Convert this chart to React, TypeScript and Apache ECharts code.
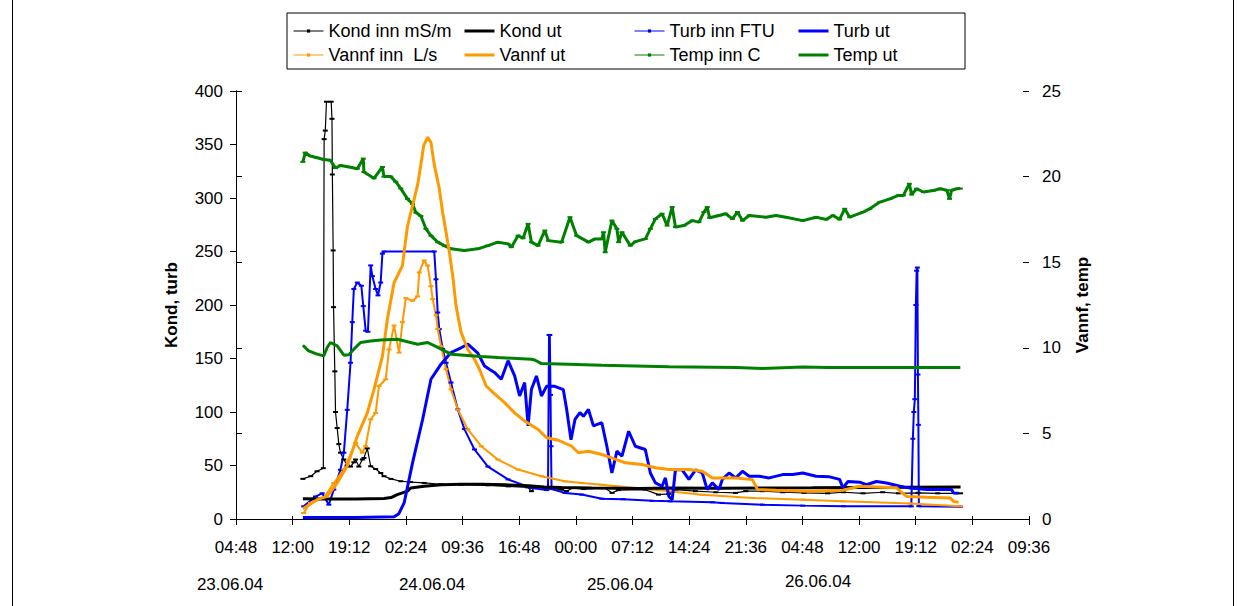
import React, { useEffect, useRef } from "react";
import * as echarts from "echarts";

// time values: hours since 23.06.04 00:00
const X0 = 4.8; // axis starts 23.06 04:48
const xTickHours = 7.2;
const xSpanHours = 100.8;

const dateLabels = ["23.06.04", "24.06.04", "25.06.04", "26.06.04"];

const kondInn: [number, number][] = [
  [13.3, 37.5], [14.3, 40], [15.1, 44.6], [15.9, 47.5], [16.0, 355], [16.15, 363], [16.3, 390], [16.9, 390],
  [17.0, 374], [17.05, 322], [17.15, 251], [17.2, 198], [17.36, 138], [17.45, 100], [17.66, 85], [17.87, 70],
  [18.08, 62], [18.51, 55.6], [18.94, 50], [19.36, 49], [19.78, 53], [20.0, 55.6], [20.42, 49], [20.86, 55.6],
  [21.06, 57], [21.49, 66], [21.92, 49.3], [22.55, 46.7], [23.2, 43], [23.61, 40], [24.5, 37.5], [25.75, 35.3],
  [27.0, 34.5], [28.72, 33.7], [30.86, 32.5], [33.4, 32], [36.8, 31.5], [39.4, 30.5], [41.9, 29.5], [42.35, 26],
  [42.8, 30], [44.0, 29], [46.2, 27.5], [46.8, 26], [47.6, 29], [49.0, 28], [51.7, 29], [52.6, 24.4], [53.4, 27],
  [56.8, 27.5], [58.5, 22.8], [59.8, 23.5], [60.7, 27.5], [63.2, 26], [65.8, 25], [68.3, 24.4], [69.6, 26],
  [71.7, 26], [74.3, 25], [77, 24.5], [80, 24], [82, 25], [84.5, 24], [87, 25], [89, 24], [91.5, 24.5], [94, 24],
  [96.9, 24],
];

const kondUt: [number, number][] = [
  [13.3, 19], [16, 18.8], [20, 18.7], [23.6, 19.2], [24.5, 20], [25.3, 22.8], [26.6, 26], [27.0, 29], [28.7, 30.6],
  [30.9, 32], [33.4, 32.5], [36, 32.5], [39, 32], [42, 31], [44, 30], [46.2, 29.5], [50, 29], [56, 28.5], [60, 29],
  [66, 28.8], [72, 29], [78, 29.2], [84, 29.5], [90, 29.7], [96.9, 30],
];

const turbInn: [number, number][] = [
  [13.4, 11.8], [14.9, 21], [15.75, 24], [16.6, 13.4], [17.23, 27.5], [18.08, 46], [18.51, 62], [18.94, 102],
  [19.36, 146], [19.58, 184], [19.78, 215], [20.22, 221], [20.73, 218], [20.98, 199], [21.28, 176], [21.57, 175],
  [21.92, 237], [22.13, 227], [22.55, 215], [22.85, 209], [23.19, 221], [23.41, 248], [23.61, 250], [30.0, 250],
  [30.22, 224], [30.44, 193], [30.64, 177.5], [31.07, 159], [31.5, 146], [32.13, 127.5], [32.99, 102.5],
  [33.83, 84], [35.11, 65], [36.82, 49], [39.38, 37], [42.35, 29], [44.3, 27], [44.46, 30], [44.59, 172],
  [44.69, 172], [44.78, 116], [44.84, 68], [44.91, 28], [46.6, 24.4], [48.74, 22.8], [51.3, 19], [54, 18.5],
  [57.7, 17], [60, 16.5], [65.34, 15.6], [66.6, 15], [71.73, 13.4], [76.84, 12.5], [82, 12], [90.64, 11.8],
  [90.84, 75], [90.96, 100], [91.09, 112], [91.22, 200], [91.32, 232], [91.41, 235], [91.48, 135], [91.54, 88],
  [91.6, 12], [96.9, 11.5],
];

const turbUt: [number, number][] = [
  [13.3, 1.5], [20, 1.5], [24.9, 2], [25.5, 5], [26.17, 15], [27.24, 52.5], [28.52, 93], [29.58, 130.6],
  [30.86, 144.7], [32.13, 155.6], [33.41, 160], [34.27, 163.4], [35.54, 155], [36.39, 143], [37.0, 140],
  [37.66, 137], [38.52, 130.6], [39.38, 148], [40.22, 133.7], [40.85, 115], [41.49, 127.5], [41.93, 87],
  [42.35, 121], [42.99, 133.7], [43.63, 115], [44.27, 124], [45.33, 124], [46.4, 121], [46.83, 102.5],
  [47.38, 74], [47.89, 93], [48.52, 99.4], [48.96, 96], [49.6, 102.5], [50.23, 87], [51.3, 90], [51.94, 68],
  [52.58, 43], [53.22, 63.4], [53.86, 58.7], [54.71, 82], [55.56, 68], [56.83, 65], [57.47, 43], [58.11, 33.7],
  [58.96, 30.6], [59.38, 38.4], [59.82, 21], [60.24, 18], [60.66, 46], [61.51, 46], [62.37, 37], [63.22, 46],
  [64.07, 43], [64.7, 27.5], [65.34, 33.7], [66.2, 27.5], [66.62, 37], [67.48, 43], [68.33, 38.4], [69.18, 44.6],
  [70.03, 40], [71.31, 40], [72.58, 38.4], [74.29, 41.5], [75.56, 41.5], [76.84, 43], [78.54, 40], [80.25, 39.4],
  [81.53, 37], [81.95, 29], [82.59, 35], [84.08, 34.4], [84.93, 32], [86.21, 35], [87.49, 33.7], [89.21, 30.6],
  [90.48, 29], [92.6, 27.5], [94.73, 27.5], [95.76, 27.5], [96.01, 24.4], [96.65, 24],
];

const vannfInn: [number, number][] = [
  [13.4, 0.35], [14.25, 0.94], [15.95, 1.23], [17.23, 2.1], [18.51, 2.9], [20.0, 4.45], [20.86, 3.87],
  [21.28, 4.25], [21.92, 5.82], [22.55, 6.2], [22.98, 7.77], [23.83, 8.16], [24.25, 9.9], [24.89, 11.3],
  [25.53, 9.72], [25.96, 11.5], [26.39, 12.9], [27.24, 12.75], [27.88, 13.0], [28.09, 14.4], [28.72, 15.1],
  [29.16, 14.8], [29.58, 13.6], [29.8, 12.85], [30.22, 11.9], [30.44, 11.1], [30.86, 10.1], [31.5, 8.75],
  [32.13, 7.57], [32.99, 6.4], [34.27, 5.23], [35.97, 4.25], [38.1, 3.47], [40.65, 2.89], [43.63, 2.5],
  [46.61, 2.2], [48.74, 2.1], [51.3, 2.0], [57.69, 1.72], [64.07, 1.42], [70.45, 1.23], [76.84, 1.13],
  [81.95, 1.03], [90.48, 0.9], [96.87, 0.74],
];

const vannfUt: [number, number][] = [
  [13.3, 0.6], [15.11, 1.13], [16.39, 1.32], [17.66, 2.1], [18.94, 3.1], [20.22, 4.84], [21.49, 6.2], [22.34, 7.57],
  [23.41, 9.5], [24.05, 11.7], [24.89, 13.8], [25.53, 14.4], [25.96, 14.8], [26.17, 15.6], [26.6, 17.1],
  [27.24, 18.3], [27.88, 19.5], [28.3, 20.7], [28.65, 21.8], [29.16, 22.3], [29.58, 22.0], [30.0, 20.7],
  [30.64, 19.3], [31.07, 17.9], [31.5, 16.75], [31.92, 15.6], [32.35, 14.2], [32.77, 12.45], [33.41, 10.9],
  [34.27, 9.9], [35.11, 9.33], [35.75, 8.75], [36.6, 7.77], [37.46, 7.4], [38.94, 6.8], [40.22, 6.2],
  [41.49, 5.72], [43.2, 5.23], [44.27, 4.75], [45.76, 4.6], [47.46, 4.25], [48.32, 3.87], [49.6, 3.96],
  [51.3, 3.77], [52.58, 3.57], [54.28, 3.28], [56.4, 3.18], [58.11, 2.99], [59.82, 2.89], [62.37, 2.89],
  [64.07, 2.79], [65.34, 2.4], [68.33, 2.4], [70.45, 2.3], [71.09, 1.72], [73.43, 1.68], [77.7, 1.62],
  [81.95, 1.68], [84.08, 1.91], [86.21, 1.87], [88.78, 1.82], [89.21, 1.62], [90.05, 1.32], [92.6, 1.27],
  [95.59, 1.23], [96.01, 1.03], [96.65, 0.97],
];

const tempInn: [number, number][] = [
  [13.3, 20.86], [13.6, 21.4], [14.25, 21.2], [15.11, 21.1], [15.95, 21.0], [16.81, 20.95], [17.45, 20.5],
  [18.08, 20.65], [19.36, 20.55], [20.22, 20.46], [20.98, 21.05], [21.06, 20.27], [22.34, 19.9], [23.41, 20.56],
  [23.61, 20], [24.47, 20], [25.11, 19.7], [25.75, 19.3], [26.6, 18.7], [27.24, 18.4], [27.66, 17.9], [28.3, 17.7],
  [28.94, 16.95], [29.58, 16.55], [30.44, 16.17], [31.28, 15.97], [32.13, 15.78], [33.83, 15.68], [35.54, 15.78],
  [36.82, 15.97], [38.1, 16.17], [39.38, 16.07], [39.8, 15.88], [40.65, 16.55], [41.29, 16.4], [41.93, 17.24],
  [42.35, 16.17], [43.2, 15.97], [44.05, 16.85], [44.5, 16.26], [46.19, 16.17], [47.25, 17.63], [48.1, 16.55],
  [49.6, 16.17], [50.45, 16.36], [51.3, 16.36], [51.52, 16.75], [51.73, 15.58], [52.58, 17.43], [53.22, 16.95],
  [53.44, 16.17], [53.86, 16.75], [54.92, 15.97], [55.56, 16.2], [56.83, 16.36], [57.47, 16.95], [58.11, 17.53],
  [58.96, 17.83], [59.6, 17.14], [60.24, 18.22], [60.66, 17.05], [61.73, 17.14], [62.79, 17.43], [63.65, 17.34],
  [64.28, 17.93], [64.7, 18.22], [65.0, 17.6], [66.2, 17.73], [67.05, 17.83], [67.9, 17.53], [68.54, 17.93],
  [69.18, 17.43], [70.03, 17.73], [72.15, 17.63], [73.43, 17.73], [74.71, 17.63], [76.84, 17.43], [78.54, 17.63],
  [79.82, 17.5], [80.67, 17.73], [81.53, 17.5], [82.17, 18.12], [82.81, 17.63], [84.5, 17.93], [85.36, 18.12],
  [86.64, 18.51], [87.93, 18.7], [88.99, 18.9], [89.63, 18.9], [90.39, 19.58], [90.68, 18.95], [91.32, 19.29],
  [92.18, 19.1], [93.45, 19.19], [94.31, 19.29], [95.15, 19.2], [95.5, 18.7], [95.76, 19.2], [96.43, 19.29],
  [96.87, 19.3],
];

const tempUt: [number, number][] = [
  [13.3, 10.15], [14.03, 9.82], [15.11, 9.63], [15.95, 9.53], [16.39, 10.02], [16.81, 10.31], [17.66, 10.11],
  [18.51, 9.57], [19.14, 9.6], [19.78, 9.92], [20.64, 10.31], [21.92, 10.4], [23.19, 10.46], [25.33, 10.5],
  [26.6, 10.35], [27.88, 10.21], [29.16, 10.31], [30.44, 10.02], [32.13, 9.63], [33.83, 9.57], [35.97, 9.49],
  [38.1, 9.43], [42.35, 9.33], [42.77, 9.29], [43.63, 9.08], [47.04, 9.04], [51.3, 8.98], [59.82, 8.9],
  [68.33, 8.85], [71.73, 8.79], [76.84, 8.88], [80, 8.85], [88, 8.85], [96.87, 8.85],
];

const FONT = "Liberation Sans";

export default function App() {
  const ref = useRef<HTMLDivElement>(null);
  useEffect(() => {
    const chart = echarts.init(ref.current!, null, { renderer: "svg" });
    const toXY = (arr: [number, number][]) => arr.map(([h, v]) => [h - X0, v]);
    const thin = (name: string, data: [number, number][], color: string, yAxisIndex: number, width = 1.3) => ({
      name,
      type: "line",
      yAxisIndex,
      data: toXY(data),
      showSymbol: true,
      showAllSymbol: true,
      symbol: "rect",
      symbolSize: [5, 2],
      itemStyle: { color },
      lineStyle: { color, width },
      emphasis: { disabled: true },
      z: 2,
    });
    const thick = (name: string, data: [number, number][], color: string, yAxisIndex: number) => ({
      name,
      type: "line",
      yAxisIndex,
      data: toXY(data),
      symbol: "none",
      itemStyle: { color },
      lineStyle: { color, width: 3 },
      emphasis: { disabled: true },
      z: 3,
    });
    const thinItem = (name: string) => ({ name, lineStyle: { width: 1 }, itemStyle: { opacity: 1 } });
    const thickItem = (name: string) => ({ name, lineStyle: { width: 3 }, itemStyle: { opacity: 0 } });
    const legendCommon = {
      orient: "vertical",
      top: 22,
      itemWidth: 30,
      itemHeight: 4,
      itemGap: 6,
      padding: 0,
      selectedMode: false,
      textStyle: { fontSize: 18, color: "#000", fontFamily: FONT, lineHeight: 18 },
    };
    const fmtTime = (v: number) => {
      const mins = ((Math.round((v + X0) * 60) % 1440) + 1440) % 1440;
      const hh = Math.floor(mins / 60);
      const mm = mins % 60;
      return String(hh).padStart(2, "0") + ":" + String(mm).padStart(2, "0");
    };
    const dateX = [230, 432, 620, 818];
    const dateY = [584, 584, 584, 581];
    const option: any = {
      animation: false,
      textStyle: { fontFamily: FONT, color: "#000" },
      grid: { left: 236, right: 217, top: 91, bottom: 87 },
      legend: [
        { ...legendCommon, left: 293, data: [thinItem("Kond inn mS/m"), thinItem("Vannf inn  L/s")] },
        { ...legendCommon, left: 463, data: [thickItem("Kond ut"), thickItem("Vannf ut")] },
        { ...legendCommon, left: 634, data: [thinItem("Turb inn FTU"), thinItem("Temp inn C")] },
        { ...legendCommon, left: 797, data: [thickItem("Turb ut"), thickItem("Temp ut")] },
      ],
      xAxis: [
        {
          type: "value",
          min: 0,
          max: xSpanHours,
          interval: xTickHours,
          axisLine: { show: true, onZero: false, lineStyle: { color: "#000", width: 1 } },
          axisTick: { show: true, length: 6, lineStyle: { color: "#000" } },
          axisLabel: { formatter: fmtTime, fontSize: 17, color: "#000", margin: 20, fontFamily: FONT },
          splitLine: { show: false },
        },
        {
          type: "value",
          min: 0,
          max: xSpanHours,
          interval: xTickHours,
          position: "bottom",
          axisLine: { show: false },
          axisTick: { show: true, inside: true, length: 3, lineStyle: { color: "#000" } },
          axisLabel: { show: false },
          splitLine: { show: false },
        },
      ],
      yAxis: [
        {
          type: "value",
          min: 0,
          max: 400,
          interval: 50,
          name: "Kond, turb",
          nameLocation: "middle",
          nameRotate: 90,
          nameGap: 56,
          nameTextStyle: { fontSize: 17, fontWeight: "bold", color: "#000", fontFamily: FONT },
          axisLine: { show: true, lineStyle: { color: "#000", width: 1 } },
          axisTick: { show: true, length: 6, lineStyle: { color: "#000" } },
          axisLabel: { fontSize: 17, color: "#000", margin: 13, fontFamily: FONT },
          splitLine: { show: false },
        },
        {
          type: "value",
          min: 0,
          max: 25,
          interval: 5,
          position: "right",
          name: "Vannf, temp",
          nameLocation: "middle",
          nameRotate: 90,
          nameGap: 45,
          nameTextStyle: { fontSize: 17, fontWeight: "bold", color: "#000", fontFamily: FONT },
          axisLine: { show: true, lineStyle: { color: "#000", width: 1 } },
          axisTick: { show: true, length: 6, lineStyle: { color: "#000" } },
          axisLabel: { fontSize: 17, color: "#000", margin: 13, fontFamily: FONT },
          splitLine: { show: false },
        },
        {
          type: "value",
          min: 0,
          max: 25,
          interval: 5,
          position: "right",
          axisLine: { show: false },
          axisTick: { show: true, inside: true, length: 6, lineStyle: { color: "#000" } },
          axisLabel: { show: false },
          splitLine: { show: false },
        },
      ],
      graphic: [
        {
          type: "rect",
          shape: { x: 287, y: 13, width: 678, height: 56 },
          style: { fill: "none", stroke: "#000", lineWidth: 1 },
          silent: true,
        },
        {
          type: "rect",
          shape: { x: 12.5, y: -2, width: 1221, height: 612 },
          style: { fill: "none", stroke: "#000", lineWidth: 1 },
          silent: true,
        },
        ...dateLabels.map((t, i) => ({
          type: "text",
          x: dateX[i],
          y: dateY[i],
          style: { text: t, fontSize: 17, fill: "#000", fontFamily: FONT, align: "center", verticalAlign: "middle" },
          silent: true,
        })),
      ],
      series: [
        thin("Kond inn mS/m", kondInn, "#000000", 0, 1.2),
        thick("Kond ut", kondUt, "#000000", 0),
        thin("Turb inn FTU", turbInn, "#0000FF", 0, 2),
        thick("Turb ut", turbUt, "#0000FF", 0),
        thin("Vannf inn  L/s", vannfInn, "#FF9900", 1, 2),
        thick("Vannf ut", vannfUt, "#FF9900", 1),
        thin("Temp inn C", tempInn, "#008000", 1, 3),
        thick("Temp ut", tempUt, "#008000", 1),
      ],
    };
    chart.setOption(option);
    return () => chart.dispose();
  }, []);
  return (
    <div
      ref={ref}
      style={{ position: "fixed", left: 0, top: 0, width: 1246, height: 606, background: "#fff" }}
    />
  );
}
